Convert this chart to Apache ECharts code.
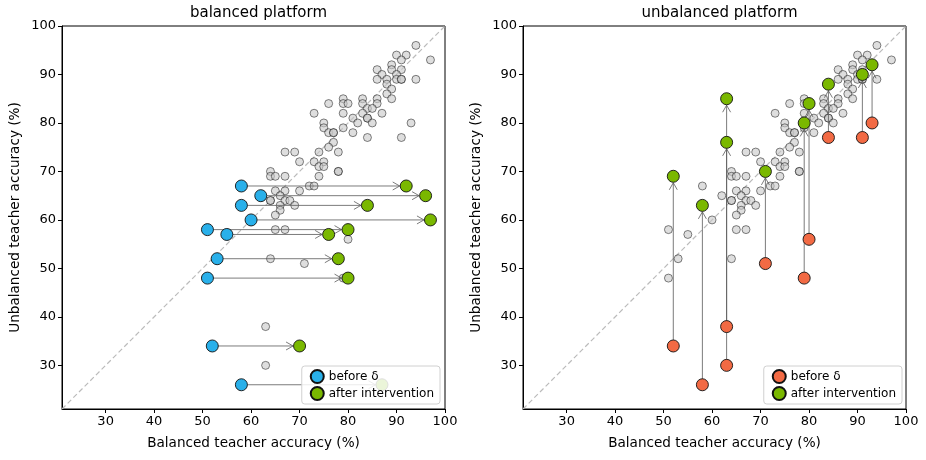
<!DOCTYPE html>
<html>
<head>
  <meta charset="utf-8">
  <title>teacher accuracy</title>
  <style>
    body { margin: 0; background: #fff; }
    #chart { width: 926px; height: 460px; }
  </style>
</head>
<body>
  <div id="chart"></div>
  <script src="https://cdn.jsdelivr.net/npm/echarts@6/dist/echarts.min.js"></script>
  <script>
    // grey cloud shared by both panels: [balanced, unbalanced]
    var sharedGrey = [
      [94,96],[97,93],[90,94],[92,94],[91,93],[89,92],[91,91],[89,91],[86,91],[87,90],
      [90,90],[86,89],[88,89],[90,89],[91,89],[91,89],[94,89],[88,88],[89,87],[88,86],
      [89,85],[86,85],[83,85],[79,85],[79,84],[80,84],[83,84],[86,84],[76,84],[84,83],
      [85,83],[83,82],[87,82],[79,82],[73,82],[81,81],[84,81],[84,81],[82,80],[85,80],
      [75,80],[75,79],[79,79],[76,78],[77,78],[77,78],[81,78],[77,76],[76,75],[78,74],
      [74,74],[67,74],[69,74],[70,72],[73,72],[75,72],[74,71],[75,71],[78,70],[78,70],
      [64,70],[64,69],[65,69],[67,69],[74,69],[72,67],[73,67],[65,66],[67,66],[70,66],
      [66,65],[64,64],[64,64],[67,64],[68,64],[66,63],[69,63],[66,62],[65,61],[65,58],
      [67,58],[64,52]
    ];

    // balanced platform: intervention moves the balanced accuracy (x)
    var leftBefore = [[58,67],[62,65],[58,63],[60,60],[51,58],[55,57],[53,52],[51,48],[52,34],[58,26]];
    var leftAfter  = [[92,67],[96,65],[84,63],[97,60],[80,58],[76,57],[78,52],[80,48],[70,34],[87,26]];

    // unbalanced platform: intervention moves the unbalanced accuracy (y)
    var rightBefore = [[52,34],[58,26],[63,38],[63,30],[71,51],[79,48],[80,56],[84,77],[91,77],[93,80]];
    var rightAfter  = [[52,69],[58,63],[63,76],[63,85],[71,70],[79,80],[80,84],[84,88],[91,90],[93,92]];

    var axisRange = [21, 100];
    var tickValues = [30, 40, 50, 60, 70, 80, 90, 100];

    var blue = '#29b0ea', green = '#7ab800', orange = '#f26a44';
    var font = 'DejaVu Sans';

    var leftGrey = sharedGrey.concat(rightBefore);
    var rightGrey = sharedGrey.concat(leftBefore);

    function pairs(a, b) {
      var out = [];
      for (var i = 0; i < a.length; i++) out.push([a[i][0], a[i][1], b[i][0], b[i][1]]);
      return out;
    }

    // grey line with an open arrow head, stopping at the edge of the target marker
    function arrowItem(params, api) {
      var a = api.coord([api.value(0), api.value(1)]);
      var b = api.coord([api.value(2), api.value(3)]);
      var dx = b[0] - a[0], dy = b[1] - a[1];
      var len = Math.sqrt(dx * dx + dy * dy);
      var ux = dx / len, uy = dy / len;
      var tip = [b[0] - ux * 6.5, b[1] - uy * 6.5];
      var hl = 7, hw = 4;
      var p1 = [tip[0] - ux * hl - uy * hw, tip[1] - uy * hl + ux * hw];
      var p2 = [tip[0] - ux * hl + uy * hw, tip[1] - uy * hl - ux * hw];
      return {
        type: 'group',
        children: [
          { type: 'line', shape: { x1: a[0], y1: a[1], x2: tip[0], y2: tip[1] },
            style: { stroke: 'rgba(90,90,90,0.8)', lineWidth: 1 } },
          { type: 'polyline', shape: { points: [p1, tip, p2] },
            style: { stroke: 'rgba(90,90,90,0.8)', fill: null, lineWidth: 1 } }
        ]
      };
    }

    function xAxis(idx) {
      return {
        gridIndex: idx, type: 'value', min: axisRange[0], max: axisRange[1],
        name: 'Balanced teacher accuracy (%)', nameLocation: 'middle', nameGap: 27,
        nameTextStyle: { fontFamily: font, fontSize: 13.6, color: '#000' },
        splitLine: { show: false },
        axisLine: { show: true, lineStyle: { color: '#000', width: 1 } },
        axisTick: { show: true, length: 4, customValues: tickValues, lineStyle: { color: '#000' } },
        axisLabel: { customValues: tickValues, fontFamily: font, fontSize: 13, color: '#000', margin: 6 }
      };
    }
    function yAxis(idx) {
      return {
        gridIndex: idx, type: 'value', min: axisRange[0], max: axisRange[1],
        name: 'Unbalanced teacher accuracy (%)', nameLocation: 'middle', nameGap: 40,
        nameTextStyle: { fontFamily: font, fontSize: 13.6, color: '#000' },
        splitLine: { show: false },
        axisLine: { show: true, lineStyle: { color: '#000', width: 1 } },
        axisTick: { show: true, length: 4, customValues: tickValues, lineStyle: { color: '#000' } },
        axisLabel: { customValues: tickValues, fontFamily: font, fontSize: 13, color: '#000', margin: 6 }
      };
    }

    function panelSeries(idx, grey, before, after, beforeColor, suffix) {
      return [
        {
          type: 'line', xAxisIndex: idx, yAxisIndex: idx, silent: true, symbol: 'none',
          data: [[axisRange[0], axisRange[0]], [axisRange[1], axisRange[1]]],
          lineStyle: { color: '#bbb', width: 1.2, type: [5, 3] }, z: 1
        },
        {
          type: 'scatter', xAxisIndex: idx, yAxisIndex: idx, symbolSize: 8, data: grey,
          itemStyle: { color: 'rgba(200,200,200,0.6)', borderColor: 'rgba(0,0,0,0.6)', borderWidth: 0.8, opacity: 1 },
          z: 2
        },
        {
          type: 'custom', xAxisIndex: idx, yAxisIndex: idx, renderItem: arrowItem,
          data: pairs(before, after), encode: { x: [0, 2], y: [1, 3] }, z: 3
        },
        {
          name: 'before δ' + suffix, type: 'scatter', xAxisIndex: idx, yAxisIndex: idx,
          symbolSize: 12, data: before,
          itemStyle: { color: beforeColor, borderColor: '#111', borderWidth: 0.9, opacity: 1 }, z: 4
        },
        {
          name: 'after intervention' + suffix, type: 'scatter', xAxisIndex: idx, yAxisIndex: idx,
          symbolSize: 12, data: after,
          itemStyle: { color: green, borderColor: '#111', borderWidth: 0.9, opacity: 1 }, z: 4
        }
      ];
    }

    function legend(right, suffix) {
      return {
        orient: 'vertical', right: right, bottom: 56, z: 20,
        data: ['before δ' + suffix, 'after intervention' + suffix],
        formatter: function (n) { return n.replace(/ \[.\]$/, ''); },
        icon: 'circle', itemWidth: 13, itemHeight: 13, itemGap: 2,
        padding: [3, 6, 3, 8],
        textStyle: { fontFamily: font, fontSize: 12, color: '#000' },
        backgroundColor: 'rgba(255,255,255,0.85)', borderColor: '#d0d0d0',
        borderWidth: 1, borderRadius: 3, selectedMode: false
      };
    }

    var chart = echarts.init(document.getElementById('chart'), null, { renderer: 'canvas' });
    chart.setOption({
      animation: false,
      backgroundColor: '#fff',
      title: [
        { text: 'balanced platform', left: 253.5, top: 1, textAlign: 'center',
          textStyle: { fontFamily: font, fontSize: 15, fontWeight: 'normal', color: '#000' } },
        { text: 'unbalanced platform', left: 714.5, top: 1, textAlign: 'center',
          textStyle: { fontFamily: font, fontSize: 15, fontWeight: 'normal', color: '#000' } }
      ],
      grid: [
        { left: 62, top: 26, width: 383, height: 383, show: true, borderColor: '#000', borderWidth: 1 },
        { left: 523, top: 26, width: 383, height: 383, show: true, borderColor: '#000', borderWidth: 1 }
      ],
      xAxis: [xAxis(0), xAxis(1)],
      yAxis: [yAxis(0), yAxis(1)],
      legend: [legend(486, ' [L]'), legend(24, ' [R]')],
      series: panelSeries(0, leftGrey, leftBefore, leftAfter, blue, ' [L]')
        .concat(panelSeries(1, rightGrey, rightBefore, rightAfter, orange, ' [R]'))
    });
  </script>
</body>
</html>
